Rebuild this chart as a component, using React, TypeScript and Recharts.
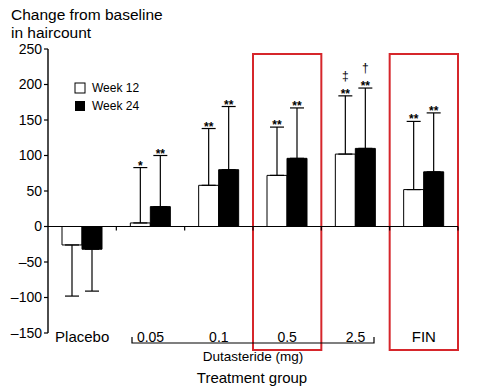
import React from 'react';
import {
  BarChart,
  Bar,
  XAxis,
  YAxis,
  ErrorBar,
  LabelList,
  ReferenceLine,
  ReferenceArea,
} from 'recharts';

const groups = ['Placebo', '0.05', '0.1', '0.5', '2.5', 'FIN'];
const week12 = [-26, 5, 58, 72, 102, 52];
const week24 = [-32, 28, 80, 96, 110, 77];
// one-sided SD (upward for gains, downward for loss)
const week12Err = [72, 78, 80, 68, 82, 96];
const week24Err = [59, 72, 89, 71, 85, 83];
const week12Sig = ['', '*', '**', '**', '**', '**'];
const week24Sig = ['', '**', '**', '**', '**', '**'];
const week12Extra = ['', '', '', '', '‡', ''];
const week24Extra = ['', '', '', '', '†', ''];
const yTicks = [-150, -100, -50, 0, 50, 100, 150, 200, 250];
const highlighted = ['0.5', 'FIN'];

const FONT = '"Liberation Sans", Arial, Helvetica, sans-serif';

const data = groups.map((name, i) => ({
  name,
  w12: week12[i],
  w24: week24[i],
  e12: week12[i] < 0 ? [week12Err[i], 0] : [0, week12Err[i]],
  e24: week24[i] < 0 ? [week24Err[i], 0] : [0, week24Err[i]],
}));

const sigLabel = (err: number[], sig: string[], extra: string[]) => (props: any) => {
  const { index, value } = props;
  if (!sig[index]) return null;
  const vb = props.viewBox || {};
  const x = vb.x ?? props.x;
  const y = vb.y ?? props.y;
  const width = vb.width ?? props.width;
  const height = vb.height ?? props.height;
  const perUnit = Math.abs(height / value);
  const capY = y - err[index] * perUnit;
  const cx = x + width / 2;
  return (
    <g fontFamily={FONT} fill="#000">
      <text x={cx} y={capY + 2} textAnchor="middle" fontSize={12} fontWeight="bold">
        {sig[index]}
      </text>
      {extra[index] && (
        <text x={cx} y={capY - 16} textAnchor="middle" fontSize={12}>
          {extra[index]}
        </text>
      )}
    </g>
  );
};

const ZeroAxis = (props: any) => {
  const { x1, y1, x2 } = props;
  const step = (x2 - x1) / groups.length;
  return (
    <g>
      <line x1={x1} y1={y1} x2={x2} y2={y1} stroke="#000" strokeWidth={1.2} />
      {groups.map((g, i) => (
        <line key={g} x1={x1 + step * (i + 1)} y1={y1} x2={x1 + step * (i + 1)} y2={y1 + 4} stroke="#000" strokeWidth={1.2} />
      ))}
    </g>
  );
};

const GroupTick = (props: any) => {
  const { x, y, payload } = props;
  const big = payload.value === 'Placebo' || payload.value === 'FIN';
  return (
    <text x={x} y={y + 3} textAnchor="middle" dominantBaseline="middle" fontSize={big ? 15 : 14} fontFamily={FONT} fill="#000">
      {payload.value}
    </text>
  );
};

const fmtY = (v: number) => (v < 0 ? `–${Math.abs(v)}` : `${v}`);

export default function App() {
  return (
    <div style={{ position: 'absolute', left: 0, top: 0, width: 480, height: 390, background: '#fff', fontFamily: FONT }}>
      <BarChart
        width={480}
        height={390}
        data={data}
        margin={{ top: 49, right: 22, left: 8, bottom: 27 }}
        barSize={20}
        barGap={0}
      >
        <YAxis
          domain={[-150, 250]}
          ticks={yTicks}
          width={40}
          tickSize={4}
          tickFormatter={fmtY}
          axisLine={{ stroke: '#000', strokeWidth: 1.4 }}
          tickLine={{ stroke: '#000', strokeWidth: 1.2 }}
          tick={{ fill: '#000', fontSize: 14, fontFamily: FONT }}
        />
        <XAxis
          dataKey="name"
          axisLine={false}
          tickLine={false}
          tickSize={0}
          height={30}
          interval={0}
          tick={<GroupTick />}
        />
        {highlighted.map((g) => (
          <ReferenceArea
            key={g}
            x1={g}
            x2={g}
            y1={-174}
            y2={243}
            ifOverflow="visible"
            fill="none"
            fillOpacity={0}
            stroke="#d6262b"
            strokeWidth={2}
          />
        ))}
        <Bar dataKey="w12" fill="#fff" stroke="#000" strokeWidth={1} isAnimationActive={false}>
          <ErrorBar dataKey="e12" direction="y" width={7} stroke="#000" strokeWidth={1.2} isAnimationActive={false} />
          <LabelList dataKey="w12" content={sigLabel(week12Err, week12Sig, week12Extra)} />
        </Bar>
        <Bar dataKey="w24" fill="#000" stroke="#000" strokeWidth={1} isAnimationActive={false}>
          <ErrorBar dataKey="e24" direction="y" width={7} stroke="#000" strokeWidth={1.2} isAnimationActive={false} />
          <LabelList dataKey="w24" content={sigLabel(week24Err, week24Sig, week24Extra)} />
        </Bar>
        <ReferenceLine y={0} ifOverflow="visible" shape={<ZeroAxis />} />
      </BarChart>
      <svg width={480} height={390} style={{ position: 'absolute', left: 0, top: 0, pointerEvents: 'none' }} fontFamily={FONT}>
        <text x={11} y={20} fontSize={15.5} fill="#000">Change from baseline</text>
        <text x={11} y={38} fontSize={15.5} fill="#000">in haircount</text>
        <rect x={75} y={83} width={10} height={10} fill="#fff" stroke="#000" strokeWidth={1} />
        <text x={92} y={92} fontSize={12} fill="#000">Week 12</text>
        <rect x={75} y={101} width={10} height={10} fill="#000" />
        <text x={92} y={110} fontSize={12} fill="#000">Week 24</text>
        <path d="M132 337 V343 H374 V337" fill="none" stroke="#000" strokeWidth={1.2} />
        <text x={253} y={361} fontSize={13.5} textAnchor="middle" fill="#000">Dutasteride (mg)</text>
        <text x={252} y={383} fontSize={15} textAnchor="middle" fill="#000">Treatment group</text>
      </svg>
    </div>
  );
}
